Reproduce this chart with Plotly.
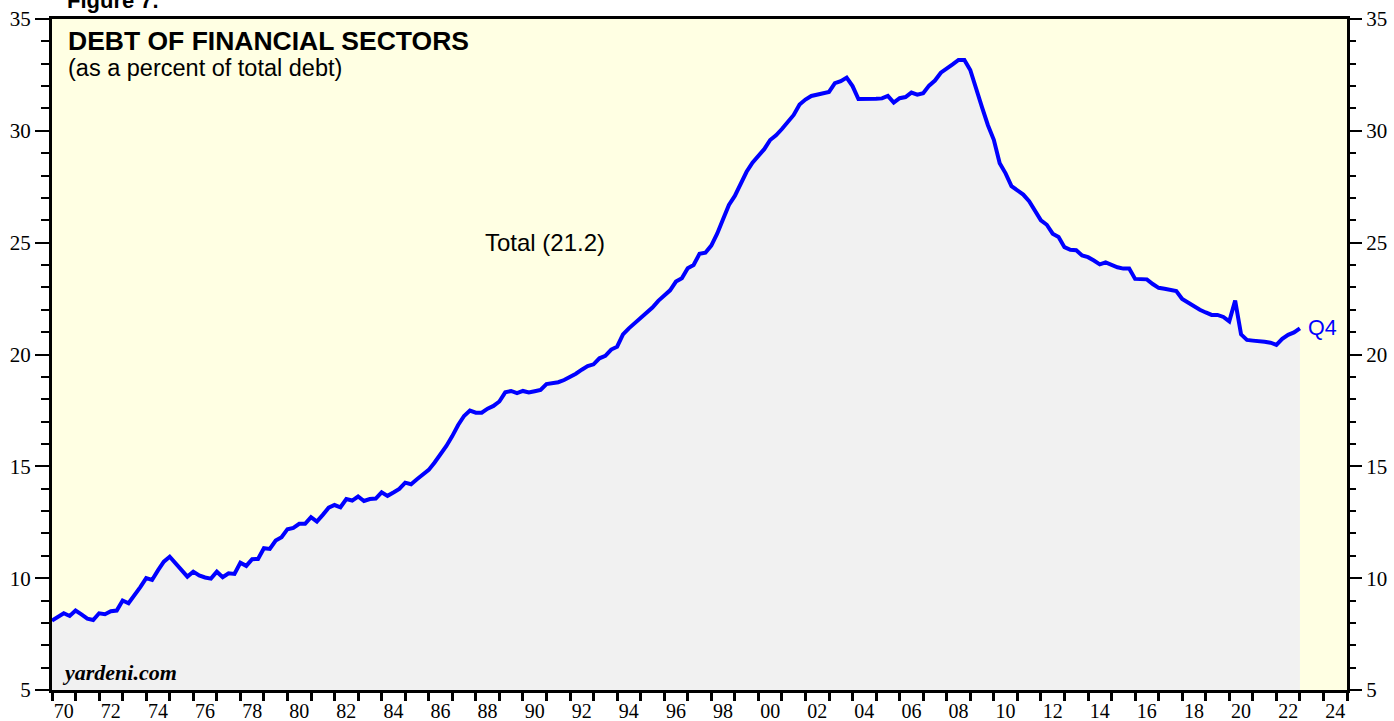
import plotly.graph_objects as go

# Quarterly values, debt of financial sectors as % of total debt (first point = 1970.0, quarterly)
start_year = 1970.0
values = [
    8.10, 8.27, 8.43, 8.31,
    8.55, 8.38, 8.19, 8.13,
    8.43, 8.39, 8.52, 8.55,
    9.00, 8.88, 9.21, 9.60,
    10.00, 9.92, 10.35, 10.74,
    10.96, 10.65, 10.38, 10.07,
    10.29, 10.12, 10.03, 9.98,
    10.29, 10.04, 10.22, 10.19,
    10.69, 10.55, 10.85, 10.86,
    11.34, 11.31, 11.68, 11.83,
    12.19, 12.25, 12.43, 12.43,
    12.73, 12.53, 12.83, 13.15,
    13.27, 13.17, 13.54, 13.47,
    13.65, 13.45, 13.54, 13.56,
    13.84, 13.68, 13.83, 13.99,
    14.27, 14.20, 14.42, 14.66,
    14.84, 15.17, 15.51, 15.91,
    16.35, 16.85, 17.25, 17.49,
    17.40, 17.40, 17.58, 17.70,
    17.90, 18.31, 18.37, 18.27,
    18.37, 18.30, 18.36, 18.42,
    18.68, 18.72, 18.76, 18.86,
    18.98, 19.14, 19.32, 19.48,
    19.56, 19.83, 19.94, 20.22,
    20.35, 20.90, 21.17, 21.40,
    21.62, 21.86, 22.10, 22.40,
    22.65, 22.87, 23.26, 23.41,
    23.86, 24.00, 24.50, 24.55,
    24.87, 25.40, 26.05, 26.69,
    27.09, 27.62, 28.17, 28.58,
    28.88, 29.18, 29.59, 29.80,
    30.08, 30.40, 30.71, 31.18,
    31.40, 31.56, 31.62, 31.68,
    31.74, 32.13, 32.22, 32.38,
    32.00, 31.42, 31.41, 31.41,
    31.43, 31.45, 31.56, 31.26,
    31.46, 31.51, 31.71, 31.62,
    31.68, 32.02, 32.25, 32.60,
    32.76, 32.97, 33.17, 33.17,
    32.72, 31.95, 31.05, 30.25,
    29.60, 28.55, 28.10, 27.53,
    27.35, 27.15, 26.85, 26.46,
    26.00, 25.80, 25.40, 25.25,
    24.80, 24.68, 24.66, 24.43,
    24.35, 24.20, 24.03, 24.12,
    24.00, 23.90, 23.84, 23.84,
    23.38, 23.37, 23.36, 23.15,
    22.98, 22.94, 22.90, 22.84,
    22.48, 22.32, 22.14, 22.00,
    21.88, 21.77, 21.77, 21.68,
    21.48, 22.41, 20.90, 20.65,
    20.62, 20.61, 20.57, 20.53,
    20.43, 20.70, 20.88, 20.99,
    21.17,
]
x_years = [start_year + 0.25 * i for i in range(len(values))]

x_tick_years = list(range(1970, 2026))
x_label_years = list(range(1970, 2025, 2))
x_label_text = ["%02d" % (y % 100) for y in x_label_years]
y_ticks = [5, 10, 15, 20, 25, 30, 35]

X_MIN, X_MAX = 1970, 2025
Y_MIN, Y_MAX = 5, 35

fig = go.Figure()
fig.add_trace(go.Scatter(
    x=x_years, y=values, mode="lines",
    line=dict(color="#0000FF", width=4),
    fill="tozeroy", fillcolor="#F1F1F1",
    showlegend=False, hoverinfo="skip",
))
# invisible trace to activate the right-hand axis
fig.add_trace(go.Scatter(x=[x_years[0]], y=[values[0]], yaxis="y2", mode="markers",
                         marker=dict(opacity=0), showlegend=False, hoverinfo="skip"))

tick_font = dict(family="Liberation Serif, Times New Roman, serif", size=21, color="black")
x_tick_font = dict(family="Liberation Serif, Times New Roman, serif", size=20, color="black")

fig.update_layout(
    width=1394, height=721,
    margin=dict(l=52, r=47, t=19, b=31, autoexpand=False),
    paper_bgcolor="white",
    plot_bgcolor="#FFFFE3",
    xaxis=dict(
        range=[X_MIN, X_MAX], automargin=False,
        showgrid=False, zeroline=False,
        showline=True, linewidth=3, linecolor="black", mirror=True,
        tickmode="array",
        tickvals=[y + 0.5 for y in x_label_years],
        ticktext=x_label_text,
        ticks="outside", ticklen=1, tickcolor="rgba(0,0,0,0)",
        tickfont=x_tick_font,
        minor=dict(tickmode="array", tickvals=x_tick_years, ticks="outside",
                   ticklen=8, tickwidth=3, tickcolor="black", showgrid=False),
    ),
    yaxis=dict(
        range=[Y_MIN, Y_MAX], automargin=False,
        showgrid=False, zeroline=False,
        showline=True, linewidth=3, linecolor="black", mirror=True,
        tickmode="array", tickvals=y_ticks,
        ticks="outside", ticklen=14, tickwidth=2, tickcolor="black",
        tickfont=tick_font,
        minor=dict(dtick=1, tick0=5, ticks="outside", ticklen=8, tickwidth=2,
                   tickcolor="black", showgrid=False),
    ),
    yaxis2=dict(
        range=[Y_MIN, Y_MAX], overlaying="y", side="right", automargin=False,
        showgrid=False, zeroline=False,
        tickmode="array", tickvals=y_ticks,
        ticks="outside", ticklen=14, tickwidth=2, tickcolor="black",
        tickfont=tick_font,
        minor=dict(dtick=1, tick0=5, ticks="outside", ticklen=8, tickwidth=2,
                   tickcolor="black", showgrid=False),
    ),
)

sans = "Liberation Sans, Arial, sans-serif"
fig.add_annotation(xref="paper", yref="paper", x=0.01, y=1.0, xanchor="left", yanchor="bottom",
                   yshift=4, text="<b>Figure 7.</b>", showarrow=False,
                   font=dict(family=sans, size=22, color="black"))
fig.add_annotation(xref="paper", yref="paper", x=0.011, y=1.0, xanchor="left", yanchor="top",
                   yshift=-5, text="<b>DEBT OF FINANCIAL SECTORS</b>", showarrow=False,
                   font=dict(family=sans, size=26.5, color="black"))
fig.add_annotation(xref="paper", yref="paper", x=0.011, y=1.0, xanchor="left", yanchor="top",
                   yshift=-34, text="(as a percent of total debt)", showarrow=False,
                   font=dict(family=sans, size=23.5, color="black"))
fig.add_annotation(xref="x", yref="y", x=1990.95, y=25.0, xanchor="center", yanchor="middle",
                   text="Total (21.2)", showarrow=False,
                   font=dict(family=sans, size=24, color="black"))
fig.add_annotation(xref="x", yref="y", x=x_years[-1], y=values[-1], xanchor="left", yanchor="middle",
                   xshift=6, text="Q4", showarrow=False,
                   font=dict(family=sans, size=21.5, color="#0000FF"))
fig.add_annotation(xref="paper", yref="paper", x=0.006, y=0.0, xanchor="left", yanchor="bottom",
                   yshift=3, text="<b><i>yardeni.com</i></b>", showarrow=False,
                   font=dict(family="Liberation Serif, Times New Roman, serif", size=22, color="black"))

fig.write_html(
    "out.html",
    config={"displayModeBar": False},
    post_script="document.body.style.margin='0';document.body.style.overflow='hidden';",
)
